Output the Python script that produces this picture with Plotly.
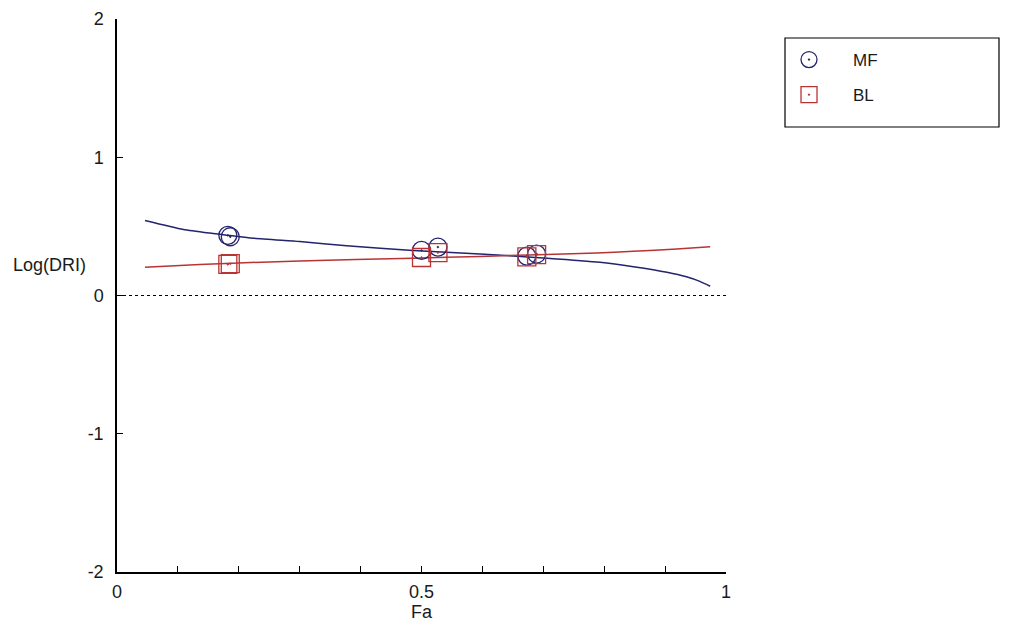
import plotly.graph_objects as go

# Measured points
mf_x = [0.182, 0.186, 0.500, 0.527, 0.673, 0.689]
mf_y = [0.435, 0.425, 0.326, 0.350, 0.285, 0.300]
bl_x = [0.182, 0.186, 0.500, 0.527, 0.673, 0.689]
bl_y = [0.225, 0.230, 0.275, 0.310, 0.280, 0.295]

# Fitted curves
mf_fit_x = [0.046, 0.109, 0.158, 0.224, 0.300, 0.377, 0.486, 0.596, 0.706, 0.793, 0.848, 0.903, 0.935, 0.957, 0.974]
mf_fit_y = [0.543, 0.478, 0.449, 0.415, 0.390, 0.360, 0.326, 0.300, 0.270, 0.240, 0.208, 0.168, 0.135, 0.102, 0.067]
bl_fit_x = [0.046, 0.136, 0.300, 0.486, 0.596, 0.788, 0.848, 0.919, 0.974]
bl_fit_y = [0.205, 0.225, 0.250, 0.270, 0.283, 0.308, 0.320, 0.336, 0.352]

x_tick_vals = [0, 0.5, 1]
x_tick_text = ["0", "0.5", "1"]
y_tick_vals = [-2, -1, 0, 1, 2]
y_tick_text = ["-2", "-1", "0", "1", "2"]

MF_COLOR = "#23236e"
BL_COLOR = "#b83434"
FONT = "Liberation Sans"
TXT = "#1a1a1a"

# page has an 8px body margin; work in figure coordinates
W, H = 1000, 628
L, R, T, B = 109, 718, 11, 564


def px(xp):
    return (xp - L) / (R - L)


def py(yp):
    return (B - yp) / (B - T)


fig = go.Figure()
fig.add_trace(go.Scatter(x=mf_fit_x, y=mf_fit_y, mode="lines", line=dict(color=MF_COLOR, width=1.5, shape="spline", smoothing=0.6),
                         showlegend=False, hoverinfo="skip"))
fig.add_trace(go.Scatter(x=bl_fit_x, y=bl_fit_y, mode="lines", line=dict(color=BL_COLOR, width=1.5, shape="spline", smoothing=0.6),
                         showlegend=False, hoverinfo="skip"))
fig.add_trace(go.Scatter(x=mf_x, y=mf_y, mode="markers", name="MF", legendgroup="a",
                         marker=dict(symbol="circle-open-dot", size=18, color=MF_COLOR, line=dict(width=1.3))))
fig.add_trace(go.Scatter(x=bl_x, y=bl_y, mode="markers", name="BL", legendgroup="b",
                         marker=dict(symbol="square-open-dot", size=18, color=BL_COLOR, line=dict(width=1.3))))

# dotted zero line
fig.add_shape(type="line", x0=0, x1=1, y0=0, y1=0, xref="x", yref="y",
              line=dict(color="black", width=1.2, dash="dot"))

# legend box
fig.add_shape(type="rect", xref="paper", yref="paper", x0=px(777), x1=px(991), y0=py(119), y1=py(30),
              line=dict(color="black", width=1.2), fillcolor="rgba(0,0,0,0)")

fig.add_annotation(text="Log(DRI)", xref="paper", yref="y", x=px(3), y=0.22, xanchor="left", yanchor="middle",
                   showarrow=False, font=dict(family=FONT, size=18, color=TXT))

fig.update_layout(
    width=W, height=H,
    margin=dict(l=L, r=W - R, t=T, b=H - B, autoexpand=False),
    paper_bgcolor="white", plot_bgcolor="white",
    font=dict(family=FONT, size=18, color=TXT),
    legend=dict(x=px(757), y=py(34), xanchor="left", yanchor="top", bgcolor="rgba(0,0,0,0)",
                borderwidth=0, tracegroupgap=10, font=dict(family=FONT, size=17, color=TXT),
                itemwidth=78),
    xaxis=dict(range=[0, 1], showgrid=False, zeroline=False, showline=True, linecolor="black", linewidth=1.5,
               tickvals=x_tick_vals, ticktext=x_tick_text, ticks="inside", ticklen=6, tickcolor="black",
               minor=dict(dtick=0.1, ticks="inside", ticklen=6, tickcolor="black", showgrid=False),
               tickfont=dict(family=FONT, size=18, color=TXT), ticklabelstandoff=3,
               title=dict(text="Fa", font=dict(family=FONT, size=18, color=TXT), standoff=0)),
    yaxis=dict(range=[-2, 2], showgrid=False, zeroline=False, showline=True, linecolor="black", linewidth=1.5,
               tickvals=y_tick_vals, ticktext=y_tick_text, ticks="inside", ticklen=6, tickcolor="black",
               tickfont=dict(family=FONT, size=18, color=TXT), ticklabelstandoff=8),
)

fig.write_html("out.html")
